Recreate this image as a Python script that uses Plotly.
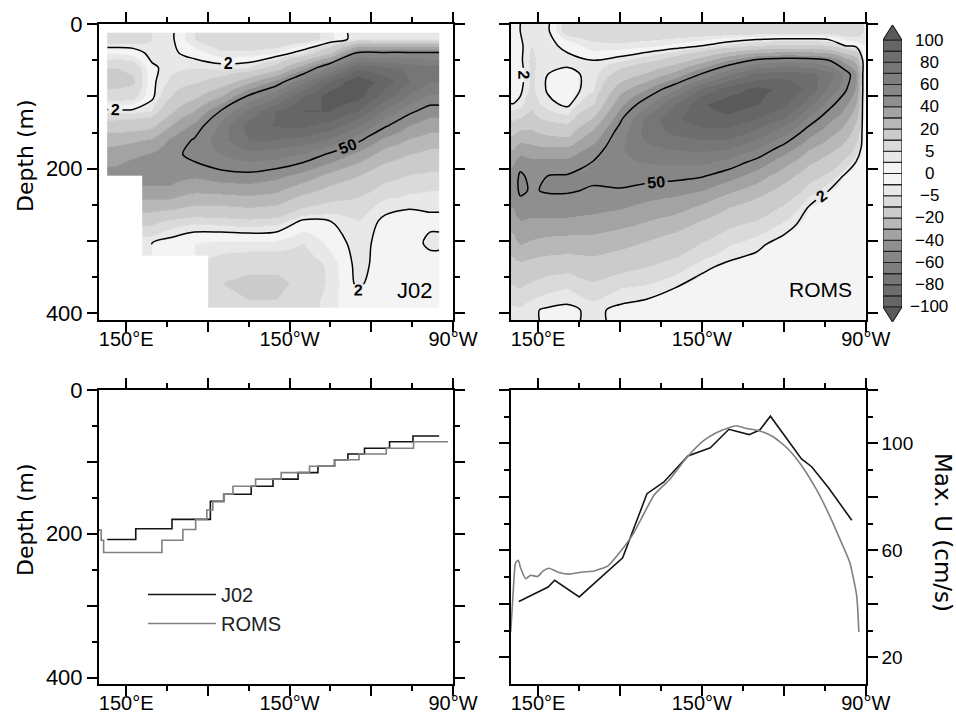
import numpy as np
import plotly.graph_objects as go

# ----------------------------------------------------------------- data ---
# shading levels (cm/s) and greys of the |u| bands 0-2,2-5,5-10,10-20,...,90-100
levels = [-100, -90, -80, -70, -60, -50, -40, -30, -20, -10, -5, -2, 0,
          2, 5, 10, 20, 30, 40, 50, 60, 70, 80, 90, 100]
band_greys = ['#f4f4f4', '#e8e8e8', '#dadada', '#cbcbcb', '#b8b8b8', '#a3a3a3',
              '#8f8f8f', '#868686', '#7e7e7e', '#767676', '#6e6e6e', '#666666']
over_grey = '#5a5a5a'
cbar_label_levels = [-100, -80, -60, -40, -20, -5, 0, 5, 20, 40, 60, 80, 100]
cbar_labels = ['−100', '−80', '−60', '−40', '−20', '−5', '0', '5', '20', '40', '60', '80', '100']
contour_levels = [2, 50]

lon_tickvals = [150, 180, 210, 240, 270]
lon_ticktext = ['150°E', '', '150°W', '', '90°W']
lon_minor = [165, 195, 225, 255]
depth_tickvals = [0, 100, 200, 300, 400]
depth_ticktext = ['0', '', '200', '', '400']
depth_minor = [50, 150, 250, 350]
umax_tickvals = [20, 40, 60, 80, 100, 120]
umax_ticktext = ['20', '', '60', '', '100', '']
umax_minor = [30, 50, 70, 90, 110]

NA = None
# J02 zonal velocity (cm/s), cells bounded by these edges
j02_lon_edges = [143, 149, 156, 163, 170, 180, 190, 200, 210, 220, 230, 240, 250, 258, 265]
j02_depth_edges = [12, 30, 50, 70, 90, 110, 130, 150, 170, 190, 210, 235, 260, 285, 320, 345, 370, 392]
j02_u = [
    [8, 8, 5, 3, -5, -10, -10, -10, -8, -3, 5, 4, 4, 4],
    [-2, -1, 4, 3, 0, -4, -4, -2, 5, 20, 52, 52, 52, 52],
    [-10, -9, 1, 4, 5, 4, 5, 14, 36, 62, 88, 82, 77, 73],
    [-12, -11, 1, 6, 9, 14, 27, 43, 67, 92, 108, 95, 80, 70],
    [-8, -7, 1, 10, 18, 30, 52, 68, 90, 106, 104, 85, 68, 58],
    [3, 3, 5, 18, 30, 51, 72, 90, 100, 100, 90, 68, 53, 45],
    [14, 15, 17, 30, 42, 64, 85, 91, 92, 86, 72, 52, 40, 34],
    [26, 28, 31, 42, 51, 67, 80, 80, 77, 68, 53, 37, 29, 25],
    [35, 38, 41, 46, 54, 60, 67, 65, 59, 48, 37, 25, 20, 17],
    [41, 45, 46, 46, 46, 51, 53, 50, 43, 33, 25, 16, 12, 11],
    [NA, NA, 40, 40, 36, 38, 39, 36, 28, 20, 15, 9, 7, 6],
    [NA, NA, 28, 27, 22, 22, 24, 22, 13, 9, 8, 4, 3, 3],
    [NA, NA, 12, 8, 6, 7, 8, 7, 1, 2, 5, 1, 0, 1],
    [NA, NA, 2, 0, -2, -3, -3, -3, -5, -1, 4, 0, 0, 3],
    [NA, NA, NA, NA, NA, -8, -9, -9, -8, -4, 3.5, 0, -1, 0],
    [NA, NA, NA, NA, NA, -10, -11, -11, -9, -4, 3, -1, -1, -1],
    [NA, NA, NA, NA, NA, -9, -10, -10, -8, -3, 1, -1, -1, -1],
]

# ROMS zonal velocity (cm/s)
roms_lon_edges = [140, 142, 145, 150, 157, 165, 175, 185, 195, 205, 215, 225, 235, 245, 253, 260, 265, 268, 270]
roms_depth_edges = [0, 20, 40, 60, 80, 100, 120, 140, 160, 180, 200, 220, 240, 265, 290, 320, 350, 380, 410]
roms_u = [
    [1, 2, 4, 3, -8, -8, -9, -9, -9, -9, -9, -9, -9, -9, -9, -9, -8, -5],
    [0, 1, 5, 3, 1, -4, -4, -3, -1, 2, 6, 10, 12, 12, 10, 2, 0, -2],
    [-1, 1, 6, 3, 3, 2, 4, 8, 14, 25, 40, 52, 56, 55, 50, 35, 25, 1],
    [-2, 0, 6, 2, 1, 3, 14, 22, 34, 52, 70, 84, 87, 84, 74, 57, 42, 1],
    [0, 1, 6, 1.5, 0, 4, 26, 40, 58, 82, 96, 103, 98, 87, 68, 52, 38, 1],
    [2, 3, 8, 3, 1, 9, 37, 57, 80, 99, 105, 101, 93, 74, 55, 42, 30, 0],
    [8, 10, 13, 8, 6, 20, 47, 74, 88, 97, 98, 91, 80, 58, 43, 33, 22, 0],
    [18, 22, 22, 18, 16, 32, 55, 75, 82, 86, 86, 77, 63, 44, 33, 25, 14, 0],
    [28, 34, 32, 30, 30, 42, 59, 68, 72, 74, 72, 62, 47, 32, 24, 16, 8, 0],
    [38, 45, 42, 42, 43, 50, 58, 61, 62, 62, 57, 47, 34, 22, 15, 8, 2, 0],
    [44, 52, 47, 50, 51, 52, 55, 54, 53, 51, 44, 35, 24, 13, 8, 1, -1, 0],
    [45, 52, 49, 51, 51, 49, 49, 46, 44, 40, 32, 25, 16, 7, 2, -1, -1, 0],
    [40, 46, 44, 45, 45, 43, 41, 37, 34, 28, 20, 15, 9, 2, 0, -2, -1, 0],
    [33, 38, 37, 36, 36, 35, 32, 28, 24, 17, 11, 8, 4, 0, -1, -2, -1, 0],
    [26, 30, 28, 26, 25, 25, 22, 18, 14, 9, 5, 3, 0, -1, -2, -2, -1, 0],
    [15, 17, 15, 13, 12, 15, 12, 10, 7, 3, 1, 0, -1, -2, -2, -2, -1, 0],
    [9, 10, 8, 6, 5, 8, 5, 4, 2, 0, -1, -1, -2, -2, -2, -2, -1, 0],
    [4, 4, 2.5, 1.5, 1, 3, 1, 0, -1, -2, -2, -2, -2, -2, -2, -2, -1, 0],
]

# depth of the velocity core (m)
j02_core_lon = [143.0, 153.5, 166.8, 180.9, 185.8, 195.9, 203.9, 213.1, 220.4, 226.5,
                231.4, 237.5, 246.7, 255.3, 264.9]
j02_core_depth = [208, 193, 180, 155, 145, 134, 124, 115, 106, 97, 89, 81, 72, 64, 64]
roms_core_lon = [139.8, 140.8, 141.7, 163.1, 170.8, 175.5, 179.6, 181.8, 185.8, 189.2,
                 197.5, 206.9, 217.3, 226.5, 235.5, 245.5, 255.5, 268.2]
roms_core_depth = [195, 209, 226, 209, 194, 180, 167, 155, 145, 134, 124, 115, 106, 97,
                   89, 81, 72, 72]

# maximum zonal velocity (cm/s)
j02_umax_lon = [143.0, 153.7, 156.1, 165.1, 181.0, 189.9, 196.0, 204.9, 213.1, 219.9,
                227.3, 231.2, 235.1, 246.5, 250.2, 256.3, 264.9]
j02_umax = [40.9, 46.3, 48.8, 42.6, 57.2, 81.2, 85.5, 95.3, 98.4, 105.3, 103.3, 105.0,
            110.2, 94.2, 91.3, 83.5, 71.3]
roms_umax_lon = [140.0, 140.9, 141.8, 142.8, 143.6, 145.5, 147.3, 149.8, 151.8, 154.0,
                 157.7, 161.4, 166.3, 170.6, 175.5, 179.8, 184.7, 192.6, 198.1, 204.2,
                 210.4, 215.3, 219.6, 222.6, 226.3, 231.2, 236.1, 241.0, 245.9, 252.0,
                 256.9, 260.6, 264.2, 266.7, 267.5]
roms_umax = [29.4, 44.2, 55.4, 56.3, 53.5, 49.4, 50.7, 50.2, 52.2, 53.3, 51.7, 51.1,
             51.9, 52.3, 54.1, 59.1, 65.9, 80.8, 86.4, 94.4, 100.9, 104.0, 105.8, 106.6,
             105.6, 104.7, 102.5, 98.5, 92.6, 82.7, 72.7, 64.1, 55.4, 43.0, 29.4]

# ------------------------------------------------------------- helpers ---
W, H = 956, 723
FONT = 'Liberation Sans, Arial, sans-serif'
TITLE_FONT = 'DejaVu Sans, Liberation Sans, sans-serif'


def px(x):
    return x / W


def py(y):
    return 1 - y / H


# stepped grey colour scale in raw velocity space
zlo, zhi = -110, 110
band_cols = band_greys[::-1] + band_greys
all_cols = [over_grey] + band_cols + [over_grey]
all_edges = [zlo] + levels + [zhi]
colorscale = []
for i, c in enumerate(all_cols):
    colorscale.append([(all_edges[i] - zlo) / (zhi - zlo), c])
    colorscale.append([(all_edges[i + 1] - zlo) / (zhi - zlo), c])


def as_list(a):
    return [[None if (v is None or np.isnan(v)) else float(v) for v in row] for row in a]


def padded_centres(xe, ye, z):
    xe = np.asarray(xe, float)
    ye = np.asarray(ye, float)
    xc = np.concatenate([[xe[0]], (xe[:-1] + xe[1:]) / 2, [xe[-1]]])
    yc = np.concatenate([[ye[0]], (ye[:-1] + ye[1:]) / 2, [ye[-1]]])
    zz = np.pad(np.array(z, dtype=float), 1, mode='edge')
    return xc.tolist(), yc.tolist(), as_list(zz)


fig = go.Figure()

for (xe, ye, z, xa, ya) in [(j02_lon_edges, j02_depth_edges, j02_u, 'x', 'y'),
                            (roms_lon_edges, roms_depth_edges, roms_u, 'x2', 'y2')]:
    zarr = np.array(z, dtype=float)
    fig.add_trace(go.Heatmap(x=xe, y=ye, z=as_list(zarr), zsmooth='best',
                             colorscale=colorscale, zmin=zlo, zmax=zhi, showlegend=False,
                             showscale=False, hoverinfo='skip', xaxis=xa, yaxis=ya))
    xc, yc, zc = padded_centres(xe, ye, z)
    fig.add_trace(go.Contour(x=xc, y=yc, z=zc, connectgaps=False, showlegend=False,
                             contours=dict(start=contour_levels[0], end=contour_levels[-1],
                                           size=contour_levels[1] - contour_levels[0],
                                           coloring='none', showlabels=True,
                                           labelfont=dict(size=16, color='black', family=FONT,
                                                          weight='bold')),
                             line=dict(color='black', width=1.5, smoothing=0.9),
                             showscale=False, hoverinfo='skip', xaxis=xa, yaxis=ya))

# core depth
fig.add_trace(go.Scatter(x=j02_core_lon, y=j02_core_depth, mode='lines', name='J02',
                         line=dict(color='#151515', width=1.6, shape='hv'),
                         xaxis='x3', yaxis='y3'))
fig.add_trace(go.Scatter(x=roms_core_lon, y=roms_core_depth, mode='lines', name='ROMS',
                         line=dict(color='#808080', width=1.6, shape='hv'),
                         xaxis='x3', yaxis='y3'))
# max U
fig.add_trace(go.Scatter(x=j02_umax_lon, y=j02_umax, mode='lines', showlegend=False,
                         line=dict(color='#151515', width=1.6), xaxis='x4', yaxis='y4'))
fig.add_trace(go.Scatter(x=roms_umax_lon, y=roms_umax, mode='lines', showlegend=False,
                         line=dict(color='#808080', width=1.6, shape='spline', smoothing=0.5),
                         xaxis='x4', yaxis='y4'))

# colour bar built from the level list
nb = len(levels) - 1
fig.add_trace(go.Bar(x=[0] * nb, y=[1] * nb, base=list(range(nb)), width=1,
                     marker=dict(color=band_cols, line=dict(color='#222222', width=1.2)),
                     showlegend=False, hoverinfo='skip', xaxis='x5', yaxis='y5'))
tip = 1.35
for yb, yt in [(nb, nb + tip), (0, -tip)]:
    fig.add_trace(go.Scatter(x=[-0.5, 0, 0.5, -0.5], y=[yb, yt, yb, yb], mode='lines',
                             fill='toself', fillcolor=over_grey,
                             line=dict(color='#222222', width=1.2), showlegend=False,
                             hoverinfo='skip', xaxis='x5', yaxis='y5'))


def base_axis(domain, anchor, rng, tv, tt, mv, tick_size, **kw):
    d = dict(domain=domain, anchor=anchor, range=rng, tickmode='array', tickvals=tv,
             ticktext=tt, ticks='outside', ticklen=10, tickwidth=2, tickcolor='black',
             showline=True, linewidth=2, linecolor='black', mirror='ticks',
             showgrid=False, zeroline=False, automargin=False,
             tickfont=dict(size=tick_size, color='black', family=FONT),
             minor=dict(tickmode='array', tickvals=mv, ticks='outside', ticklen=5,
                        tickwidth=2, tickcolor='black', showgrid=False))
    d.update(kw)
    return d


xl = [px(99), px(453)]
xr = [px(510.7), px(865.7)]
yt = [py(320), py(24)]
yb = [py(684), py(390)]
drange = [409, 0]
xs = dict(ticklabelstandoff=-10)

fig.update_layout(
    width=W, height=H, autosize=False,
    margin=dict(l=0, r=0, t=0, b=0, pad=0, autoexpand=False),
    paper_bgcolor='white', plot_bgcolor='white',
    font=dict(family=FONT, color='black'),
    xaxis=base_axis(xl, 'y', [140, 270], lon_tickvals, lon_ticktext, lon_minor, 20, **xs),
    yaxis=base_axis(yt, 'x', drange, depth_tickvals, depth_ticktext, depth_minor, 22),
    xaxis2=base_axis(xr, 'y2', [140, 270], lon_tickvals, lon_ticktext, lon_minor, 20, **xs),
    yaxis2=base_axis(yt, 'x2', drange, depth_tickvals, depth_ticktext, depth_minor, 22,
                     showticklabels=False),
    xaxis3=base_axis(xl, 'y3', [140, 270], lon_tickvals, lon_ticktext, lon_minor, 20, **xs),
    yaxis3=base_axis(yb, 'x3', drange, depth_tickvals, depth_ticktext, depth_minor, 22),
    xaxis4=base_axis(xr, 'y4', [140, 270], lon_tickvals, lon_ticktext, lon_minor, 20, **xs),
    yaxis4=base_axis(yb, 'x4', [10, 120], umax_tickvals, umax_ticktext, umax_minor, 19,
                     side='right'),
    xaxis5=dict(domain=[px(883), px(902)], anchor='y5', range=[-0.5, 0.5], visible=False),
    yaxis5=dict(domain=[py(322), py(25)], anchor='x5', range=[-tip, nb + tip], visible=False),
    barmode='overlay',
    showlegend=True,
    legend=dict(x=px(143), y=py(575), xanchor='left', yanchor='top',
                bgcolor='rgba(0,0,0,0)', font=dict(size=20, family=FONT, color='#222'),
                itemwidth=68, tracegroupgap=0),
)

ann = []
for v, t in zip(cbar_label_levels, cbar_labels):
    ann.append(dict(x=px(929), y=levels.index(v), xref='paper', yref='y5', text=t,
                    showarrow=False, xanchor='center', yanchor='middle',
                    font=dict(size=17, family=FONT, color='black')))
for yc in [156, 520]:
    ann.append(dict(x=px(25), y=py(yc), xref='paper', yref='paper', text='Depth (m)',
                    textangle=-90, showarrow=False, xanchor='center', yanchor='middle',
                    font=dict(size=22, family=TITLE_FONT, color='black')))
ann.append(dict(x=px(943), y=py(532), xref='paper', yref='paper', text='Max. U (cm/s)',
                textangle=90, showarrow=False, xanchor='center', yanchor='middle',
                font=dict(size=23, family=TITLE_FONT, color='black')))
ann.append(dict(x=px(414), y=py(290), xref='paper', yref='paper', text='J02',
                showarrow=False, xanchor='center', yanchor='middle',
                font=dict(size=22, family=FONT, color='black')))
ann.append(dict(x=px(820), y=py(289), xref='paper', yref='paper', text='ROMS',
                showarrow=False, xanchor='center', yanchor='middle',
                font=dict(size=21, family=FONT, color='black')))
fig.update_layout(annotations=ann)

fig.write_html('out.html', config={'responsive': False, 'displayModeBar': False},
               post_script="document.body.style.margin='0';document.body.style.overflow='hidden';")
